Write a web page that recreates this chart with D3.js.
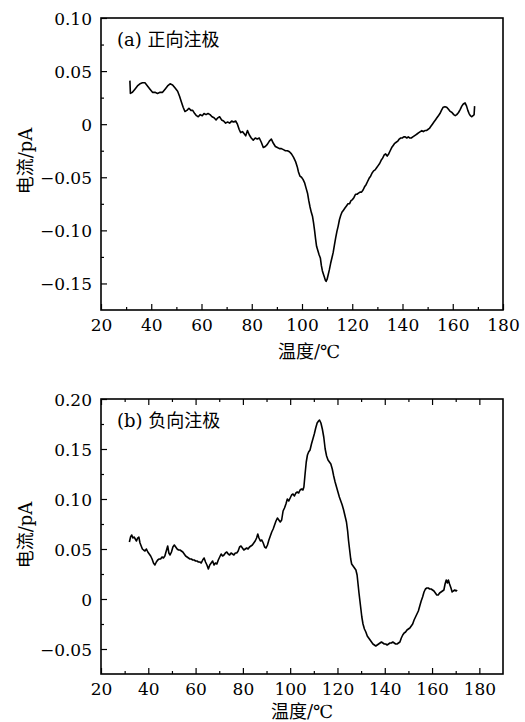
<!DOCTYPE html>
<html><head><meta charset="utf-8">
<script src="https://cdn.jsdelivr.net/npm/d3@7"></script>
<style>
body{margin:0;background:#fff;}
svg text{fill:#000;}
</style></head>
<body><svg id="c" width="525" height="722"></svg>
<script>
// ---- data: panel (a) 正向注极 ----
const tempA = [31.5,31.7,32.5,33.5,34.5,35.5,36.5,37.5,38.5,39.5,40.5,41.5,42.5,43.5,44.5,45.5,46.5,47.5,48.5,49.5,50.5,51.3,52.0,52.7,53.4,54.2,55.0,55.8,56.5,57.3,58.0,58.7,59.5,60.3,61.0,61.8,62.6,63.4,64.2,65.0,65.8,66.5,67.2,68.0,68.8,69.6,70.4,71.2,72.0,72.8,73.6,74.3,75.0,75.6,76.3,77.0,77.6,78.3,79.0,79.8,80.6,81.4,82.2,83.0,83.8,84.6,85.4,86.2,87.0,87.8,88.6,89.4,90.2,91.0,91.8,92.6,93.4,94.2,95.0,95.8,96.6,97.4,98.1,98.6,99.2,99.8,100.4,101.0,101.6,102.2,102.7,103.2,103.7,104.2,104.6,105.0,105.4,105.8,106.3,106.8,107.3,107.7,108.1,108.5,108.9,109.3,109.6,110.0,110.4,110.9,111.4,111.9,112.4,112.9,113.4,113.9,114.4,114.9,115.4,115.9,116.5,117.1,117.7,118.3,118.9,119.5,120.1,120.7,121.3,121.9,122.5,123.1,123.7,124.3,124.9,125.5,126.1,126.7,127.3,127.9,128.5,129.1,129.7,130.3,130.9,131.5,132.1,132.7,133.3,133.9,134.5,135.1,135.7,136.3,136.9,137.5,138.1,138.7,139.3,139.9,140.5,141.1,141.7,142.3,142.9,143.5,144.1,144.7,145.3,145.9,146.5,147.1,147.7,148.3,148.9,149.5,150.1,150.7,151.3,151.9,152.5,153.1,153.7,154.3,154.9,155.5,156.2,156.9,157.6,158.3,159.0,159.7,160.4,161.0,161.6,162.3,163.0,163.6,164.2,164.9,165.5,166.0,166.5,167.0,167.5,168.1,168.5,168.7];
const currentA = [0.041,0.029,0.030,0.033,0.036,0.038,0.039,0.039,0.036,0.033,0.030,0.030,0.029,0.030,0.030,0.033,0.036,0.038,0.037,0.034,0.031,0.026,0.021,0.016,0.012,0.013,0.015,0.013,0.013,0.010,0.008,0.007,0.009,0.008,0.010,0.009,0.010,0.009,0.007,0.006,0.004,0.006,0.007,0.004,0.003,0.001,0.002,0.001,0.003,0.002,0.003,0.000,-0.005,-0.008,-0.007,-0.009,-0.011,-0.006,-0.010,-0.013,-0.015,-0.013,-0.014,-0.013,-0.017,-0.022,-0.021,-0.019,-0.016,-0.014,-0.018,-0.021,-0.022,-0.023,-0.023,-0.024,-0.025,-0.025,-0.026,-0.028,-0.031,-0.035,-0.040,-0.045,-0.049,-0.050,-0.052,-0.055,-0.060,-0.065,-0.072,-0.078,-0.083,-0.087,-0.093,-0.100,-0.108,-0.115,-0.119,-0.123,-0.126,-0.133,-0.138,-0.141,-0.144,-0.147,-0.148,-0.146,-0.142,-0.137,-0.131,-0.126,-0.121,-0.114,-0.107,-0.101,-0.096,-0.090,-0.086,-0.083,-0.081,-0.079,-0.077,-0.075,-0.075,-0.072,-0.071,-0.069,-0.066,-0.066,-0.065,-0.064,-0.064,-0.062,-0.059,-0.057,-0.054,-0.051,-0.049,-0.046,-0.044,-0.043,-0.041,-0.039,-0.037,-0.034,-0.032,-0.029,-0.028,-0.030,-0.028,-0.025,-0.022,-0.020,-0.018,-0.017,-0.016,-0.014,-0.013,-0.013,-0.012,-0.012,-0.013,-0.012,-0.013,-0.013,-0.012,-0.011,-0.010,-0.009,-0.008,-0.007,-0.006,-0.007,-0.006,-0.006,-0.005,-0.004,-0.002,0.000,0.002,0.004,0.006,0.008,0.010,0.013,0.016,0.0165,0.016,0.014,0.012,0.011,0.009,0.008,0.009,0.011,0.014,0.017,0.019,0.020,0.017,0.013,0.010,0.008,0.007,0.008,0.009,0.017];

// ---- data: panel (b) 负向注极 ----
const tempB = [32.0,32.5,33.0,33.5,34.0,34.5,35.0,35.5,36.0,36.5,37.0,37.5,38.0,38.6,39.2,39.8,40.4,41.0,41.6,42.2,42.8,43.4,44.0,44.6,45.2,45.8,46.4,47.0,47.6,48.2,48.7,49.2,49.8,50.4,51.0,51.6,52.2,52.8,53.4,54.0,54.6,55.2,55.8,56.4,57.0,57.6,58.2,58.8,59.4,60.0,60.6,61.2,61.8,62.4,63.0,63.6,64.2,64.8,65.4,66.0,66.6,67.2,67.8,68.4,69.0,69.6,70.2,70.8,71.4,72.0,72.6,73.2,73.8,74.4,75.0,75.6,76.2,76.8,77.4,78.0,78.6,79.2,79.8,80.4,81.0,81.6,82.2,82.8,83.4,84.0,84.6,85.2,85.8,86.3,86.8,87.4,88.0,88.6,89.2,89.8,90.4,91.0,91.6,92.2,92.8,93.4,94.0,94.6,95.2,95.8,96.4,97.0,97.6,98.2,98.8,99.4,100.0,100.6,101.2,101.8,102.4,103.0,103.6,104.2,104.8,105.4,105.8,106.3,106.8,107.3,107.8,108.4,109.0,109.6,110.2,110.8,111.4,112.0,112.4,113.0,113.6,114.2,114.8,115.4,116.0,116.6,117.2,117.8,118.4,119.0,119.6,120.2,120.8,121.4,122.0,122.6,123.2,123.8,124.3,124.7,125.1,125.6,126.0,126.6,127.2,127.8,128.3,128.7,129.1,129.5,129.9,130.3,130.8,131.4,132.0,132.6,133.2,133.8,134.4,135.0,135.6,136.2,136.8,137.4,138.0,138.6,139.2,139.8,140.4,141.0,141.6,142.2,142.8,143.4,144.0,144.6,145.2,145.8,146.4,147.0,147.6,148.2,148.8,149.4,150.0,150.6,151.2,151.8,152.4,153.0,153.6,154.2,154.8,155.4,156.0,156.6,157.2,157.8,158.4,159.0,159.6,160.2,160.8,161.4,162.0,162.6,163.2,163.8,164.4,165.0,165.5,166.0,166.5,166.9,167.4,168.0,168.5,169.0,169.6,170.2,170.6];
const currentB = [0.057,0.062,0.064,0.061,0.062,0.060,0.058,0.061,0.062,0.056,0.053,0.050,0.049,0.048,0.050,0.047,0.045,0.043,0.040,0.036,0.034,0.037,0.039,0.040,0.040,0.042,0.041,0.043,0.048,0.053,0.046,0.044,0.047,0.052,0.054,0.052,0.050,0.049,0.049,0.048,0.047,0.045,0.043,0.042,0.041,0.040,0.040,0.039,0.039,0.038,0.038,0.037,0.037,0.036,0.039,0.041,0.037,0.034,0.030,0.034,0.036,0.038,0.034,0.036,0.035,0.039,0.042,0.045,0.043,0.044,0.046,0.047,0.045,0.044,0.046,0.045,0.044,0.046,0.046,0.048,0.052,0.053,0.051,0.049,0.050,0.051,0.050,0.052,0.053,0.054,0.056,0.058,0.061,0.065,0.061,0.058,0.059,0.056,0.052,0.051,0.054,0.059,0.063,0.067,0.070,0.074,0.078,0.081,0.079,0.077,0.079,0.088,0.091,0.095,0.100,0.098,0.101,0.104,0.105,0.103,0.106,0.107,0.106,0.109,0.110,0.109,0.112,0.125,0.137,0.144,0.147,0.149,0.155,0.160,0.165,0.171,0.176,0.178,0.179,0.176,0.170,0.162,0.150,0.143,0.139,0.137,0.135,0.130,0.123,0.117,0.112,0.107,0.102,0.098,0.094,0.089,0.083,0.077,0.068,0.058,0.050,0.040,0.035,0.033,0.031,0.029,0.024,0.015,0.006,-0.002,-0.010,-0.018,-0.025,-0.030,-0.033,-0.037,-0.039,-0.041,-0.043,-0.045,-0.046,-0.047,-0.046,-0.045,-0.044,-0.043,-0.044,-0.045,-0.045,-0.046,-0.045,-0.044,-0.044,-0.043,-0.044,-0.045,-0.045,-0.044,-0.043,-0.039,-0.036,-0.034,-0.033,-0.031,-0.030,-0.029,-0.027,-0.025,-0.021,-0.018,-0.015,-0.012,-0.007,-0.002,0.002,0.007,0.010,0.011,0.011,0.010,0.010,0.009,0.008,0.006,0.004,0.004,0.006,0.007,0.008,0.009,0.015,0.019,0.016,0.019,0.015,0.011,0.007,0.008,0.009,0.008,0.009];

// ---- ticks ----
const xMajor = [20,40,60,80,100,120,140,160,180];
const xMinor = [30,50,70,90,110,130,150,170];
const yMajorA = [0.10,0.05,0,-0.05,-0.10,-0.15];
const yMinorA = [0.075,0.025,-0.025,-0.075,-0.125];
const yMajorB = [0.20,0.15,0.10,0.05,0,-0.05];
const yMinorB = [0.175,0.125,0.075,0.025,-0.025];

const FONT = "'DejaVu Serif', 'Noto Sans CJK SC', serif";
const svg = d3.select("#c");
const fmt = v => v === 0 ? "0" : d3.format(".2f")(v);

function panel(o){
  const g = svg.append("g");
  const x = d3.scaleLinear().domain(o.xDom).range([o.l, o.r]);
  const y = d3.scaleLinear().domain(o.yDom).range([o.b, o.t]);

  const bx = g.append("g").attr("transform",`translate(0,${o.b})`)
    .call(d3.axisBottom(x).tickValues(xMajor).tickSize(-6).tickFormat(d3.format("d")));
  bx.selectAll("text").attr("dy",null).attr("y",20.5);
  g.append("g").attr("transform",`translate(0,${o.b})`)
    .call(d3.axisBottom(x).tickValues(xMinor).tickSize(-3).tickFormat(""));
  if (o.topTicks){
    g.append("g").attr("transform",`translate(0,${o.t})`)
      .call(d3.axisTop(x).tickValues(xMajor).tickSize(-6).tickFormat(""));
    g.append("g").attr("transform",`translate(0,${o.t})`)
      .call(d3.axisTop(x).tickValues(xMinor).tickSize(-3).tickFormat(""));
  }
  const ly = g.append("g").attr("transform",`translate(${o.l},0)`)
    .call(d3.axisLeft(y).tickValues(o.yMajor).tickSize(-6).tickFormat(fmt));
  ly.selectAll("text").attr("x",-9).attr("dy","0.36em");
  g.append("g").attr("transform",`translate(${o.l},0)`)
    .call(d3.axisLeft(y).tickValues(o.yMinor).tickSize(-3).tickFormat(""));
  g.selectAll(".domain").remove();
  g.selectAll(".tick line").attr("stroke","#000").attr("stroke-width",1.2);
  g.selectAll(".tick text").attr("font-family",null).attr("font-size",null)
    .style("font-family",FONT).style("font-size","17px").attr("fill","#000");

  const pts = o.T.map((t,i)=>[t,o.V[i]]);
  g.append("path").datum(pts)
    .attr("fill","none").attr("stroke","#000").attr("stroke-width",1.6)
    .attr("stroke-linejoin","round")
    .attr("d", d3.line().x(d=>x(d[0])).y(d=>y(d[1])));

  g.append("rect").attr("x",o.l).attr("y",o.t).attr("width",o.r-o.l).attr("height",o.b-o.t)
    .attr("fill","none").attr("stroke","#000").attr("stroke-width",1.6);

  g.append("text").attr("x",o.l+16).attr("y",o.t+28).style("font-family",FONT)
    .style("font-size","18px").text(o.label);
  g.append("text").attr("x",o.xtX).attr("y",o.xtY).attr("text-anchor","middle")
    .style("font-family",FONT).style("font-size","18px").text("温度/℃");
  g.append("text").attr("transform",`translate(32,${o.ytY}) rotate(-90)`)
    .attr("text-anchor","middle").style("font-family",FONT).style("font-size","18px").text("电流/pA");
}

panel({l:101,r:503,t:18,b:310,xDom:[20,180],yDom:[-0.175,0.10],
  yMajor:yMajorA,yMinor:yMinorA,T:tempA,V:currentA,topTicks:false,
  label:"(a) 正向注极",xtX:309,xtY:358,ytY:161});
panel({l:101,r:503,t:399,b:674,xDom:[20,190],yDom:[-0.075,0.20],
  yMajor:yMajorB,yMinor:yMinorB,T:tempB,V:currentB,topTicks:true,
  label:"(b) 负向注极",xtX:302,xtY:718,ytY:535});
</script></body></html>
